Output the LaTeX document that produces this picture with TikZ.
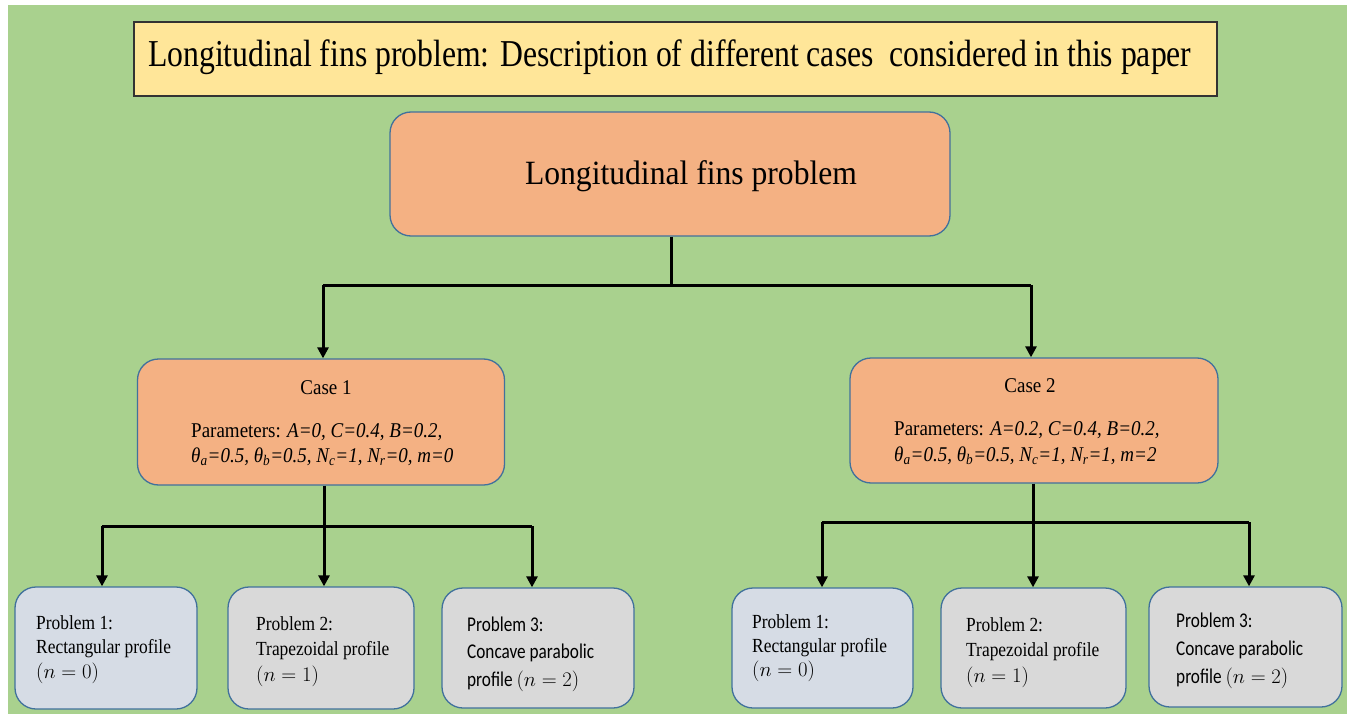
\documentclass[tikz,border=0pt]{standalone}
\usepackage{fontspec}
\setmainfont{Liberation Serif}
\newfontfamily\ttl[FakeStretch=0.834]{Liberation Serif}
\newfontfamily\mtl[FakeStretch=0.93]{Liberation Serif}
\newfontfamily\tnr[FakeStretch=0.905]{Liberation Serif}
\newfontfamily\tnrb[FakeStretch=0.87]{Liberation Serif}
\newfontfamily\clb[FakeStretch=0.82]{Carlito}
\usetikzlibrary{arrows.meta}
\definecolor{bg}{HTML}{A9D18E}
\definecolor{titlefill}{HTML}{FFE699}
\definecolor{orangefill}{HTML}{F4B183}
\definecolor{bluefill}{HTML}{D6DCE5}
\definecolor{greyfill}{HTML}{D9D9D9}
\definecolor{edge}{HTML}{41719C}
\tikzset{
  rbox/.style={draw=edge, line width=1.3pt, rounded corners=21pt, inner sep=0pt},
  conn/.style={draw=black, line width=3pt},
  arr/.style={conn, -{Triangle[length=11pt,width=11pt]}},
  txt/.style={anchor=base west, inner sep=0pt},
  ctxt/.style={anchor=base, inner sep=0pt}
}
\begin{document}
\begin{tikzpicture}[x=1pt,y=-1pt]
\fill[white] (0,0) rectangle (1351,714);
\useasboundingbox (0,0) rectangle (1351,714);
\fill[bg] (8,5) rectangle (1347,714);
% title
\node[draw=black!80, line width=2pt, fill=titlefill, minimum width=1083pt, minimum height=74pt, inner sep=0pt] (title) at (675.5,59) {};
\node[txt] (titletext) at (148,67) {\fontsize{38}{40}\ttl Longitudinal fins problem: Description of different cases\ \ considered in this paper};
% main
\node[rbox, fill=orangefill, minimum width=560pt, minimum height=124pt] (main) at (670,174) {};
\node[ctxt] (maintext) at (691,185) {\fontsize{34}{36}\mtl Longitudinal fins problem};
% cases
\node[rbox, fill=orangefill, minimum width=367pt, minimum height=126pt] (case1) at (321,422) {};
\node[rbox, fill=orangefill, minimum width=368pt, minimum height=125pt] (case2) at (1034,420.5) {};
\node[ctxt] (c1t) at (326,394) {\fontsize{21}{23}\tnr Case 1};
\node[txt] (c1a) at (191,437) {\fontsize{21}{23}\tnr Parameters: \textit{A=0, C=0.4, B=0.2,}};
\node[txt] (c1b) at (191,462) {\fontsize{21}{23}\tnr\itshape θ\textsubscript{a}=0.5, θ\textsubscript{b}=0.5, N\textsubscript{c}=1, N\textsubscript{r}=0, m=0};
\node[ctxt] (c2t) at (1030,392) {\fontsize{21}{23}\tnr Case 2};
\node[txt] (c2a) at (894,435) {\fontsize{21}{23}\tnr Parameters: \textit{A=0.2, C=0.4, B=0.2,}};
\node[txt] (c2b) at (894,461) {\fontsize{21}{23}\tnr\itshape θ\textsubscript{a}=0.5, θ\textsubscript{b}=0.5, N\textsubscript{c}=1, N\textsubscript{r}=1, m=2};
% problem boxes left
\node[rbox, fill=bluefill, minimum width=182pt, minimum height=122pt] (lp1) at (106,648) {};
\node[rbox, fill=greyfill, minimum width=186pt, minimum height=122pt] (lp2) at (321,648) {};
\node[rbox, fill=greyfill, minimum width=192pt, minimum height=120pt] (lp3) at (538,648) {};
% problem boxes right
\node[rbox, fill=bluefill, minimum width=181pt, minimum height=120pt] (rp1) at (822.5,648) {};
\node[rbox, fill=greyfill, minimum width=185pt, minimum height=120pt] (rp2) at (1033.5,648) {};
\node[rbox, fill=greyfill, minimum width=193pt, minimum height=120pt] (rp3) at (1245.5,647) {};
% texts left
\node[txt] (lp1a) at (36,629) {\fontsize{20}{22}\tnrb Problem 1:};
\node[txt] (lp1b) at (36,653) {\fontsize{20}{22}\tnrb Rectangular profile};
\node[txt] (lp1c) at (36,678) {\fontsize{20}{22}\tnrb $(n = 0)$};
\node[txt] (lp2a) at (256,630) {\fontsize{20}{22}\tnrb Problem 2:};
\node[txt] (lp2b) at (256,655) {\fontsize{20}{22}\tnrb Trapezoidal profile};
\node[txt] (lp2c) at (256,681) {\fontsize{22}{24}\tnrb $(n = 1)$};
\node[txt] (lp3a) at (467,631) {\fontsize{21}{22}\clb Problem 3:};
\node[txt] (lp3b) at (467,658) {\fontsize{21}{22}\clb Concave parabolic};
\node[txt] (lp3c) at (467,686) {\fontsize{21}{22}\clb profile $(n = 2)$};
% texts right
\node[txt] (rp1a) at (752,628) {\fontsize{20}{22}\tnrb Problem 1:};
\node[txt] (rp1b) at (752,652) {\fontsize{20}{22}\tnrb Rectangular profile};
\node[txt] (rp1c) at (752,676) {\fontsize{20}{22}\tnrb $(n = 0)$};
\node[txt] (rp2a) at (966,631) {\fontsize{20}{22}\tnrb Problem 2:};
\node[txt] (rp2b) at (966,656) {\fontsize{20}{22}\tnrb Trapezoidal profile};
\node[txt] (rp2c) at (966,682) {\fontsize{22}{24}\tnrb $(n = 1)$};
\node[txt] (rp3a) at (1176,627) {\fontsize{21}{22}\clb Problem 3:};
\node[txt] (rp3b) at (1176,655) {\fontsize{21}{22}\clb Concave parabolic};
\node[txt] (rp3c) at (1176,683) {\fontsize{21}{22}\clb profile $(n = 2)$};
% connectors top
\coordinate (h0) at (671,285);
\coordinate (h0l) at (323,285);
\coordinate (h0r) at (1031,285);
\draw[conn] (main.south -| h0) -- (h0);
\draw[conn] (h0l) -- (h0r);
\draw[arr] (h0l) -- (h0l |- case1.north);
\draw[arr] (h0r) -- (h0r |- case2.north);
% connectors case 1
\coordinate (h1) at (324,526);
\coordinate (h1a) at (102,526);
\coordinate (h1c) at (532,526);
\draw[conn] (case1.south -| h1) -- (h1);
\draw[conn] (h1a) -- (h1c);
\draw[arr] (h1a) -- (h1a |- lp1.north);
\draw[arr] (h1) -- (h1 |- lp2.north);
\draw[arr] (h1c) -- (h1c |- lp3.north);
% connectors case 2
\coordinate (h2) at (1033,522);
\coordinate (h2a) at (822,522);
\coordinate (h2c) at (1249,522);
\draw[conn] (case2.south -| h2) -- (h2);
\draw[conn] (h2a) -- (h2c);
\draw[arr] (h2a) -- (h2a |- rp1.north);
\draw[arr] (h2) -- (h2 |- rp2.north);
\draw[arr] (h2c) -- (h2c |- rp3.north);
\end{tikzpicture}
\end{document}
